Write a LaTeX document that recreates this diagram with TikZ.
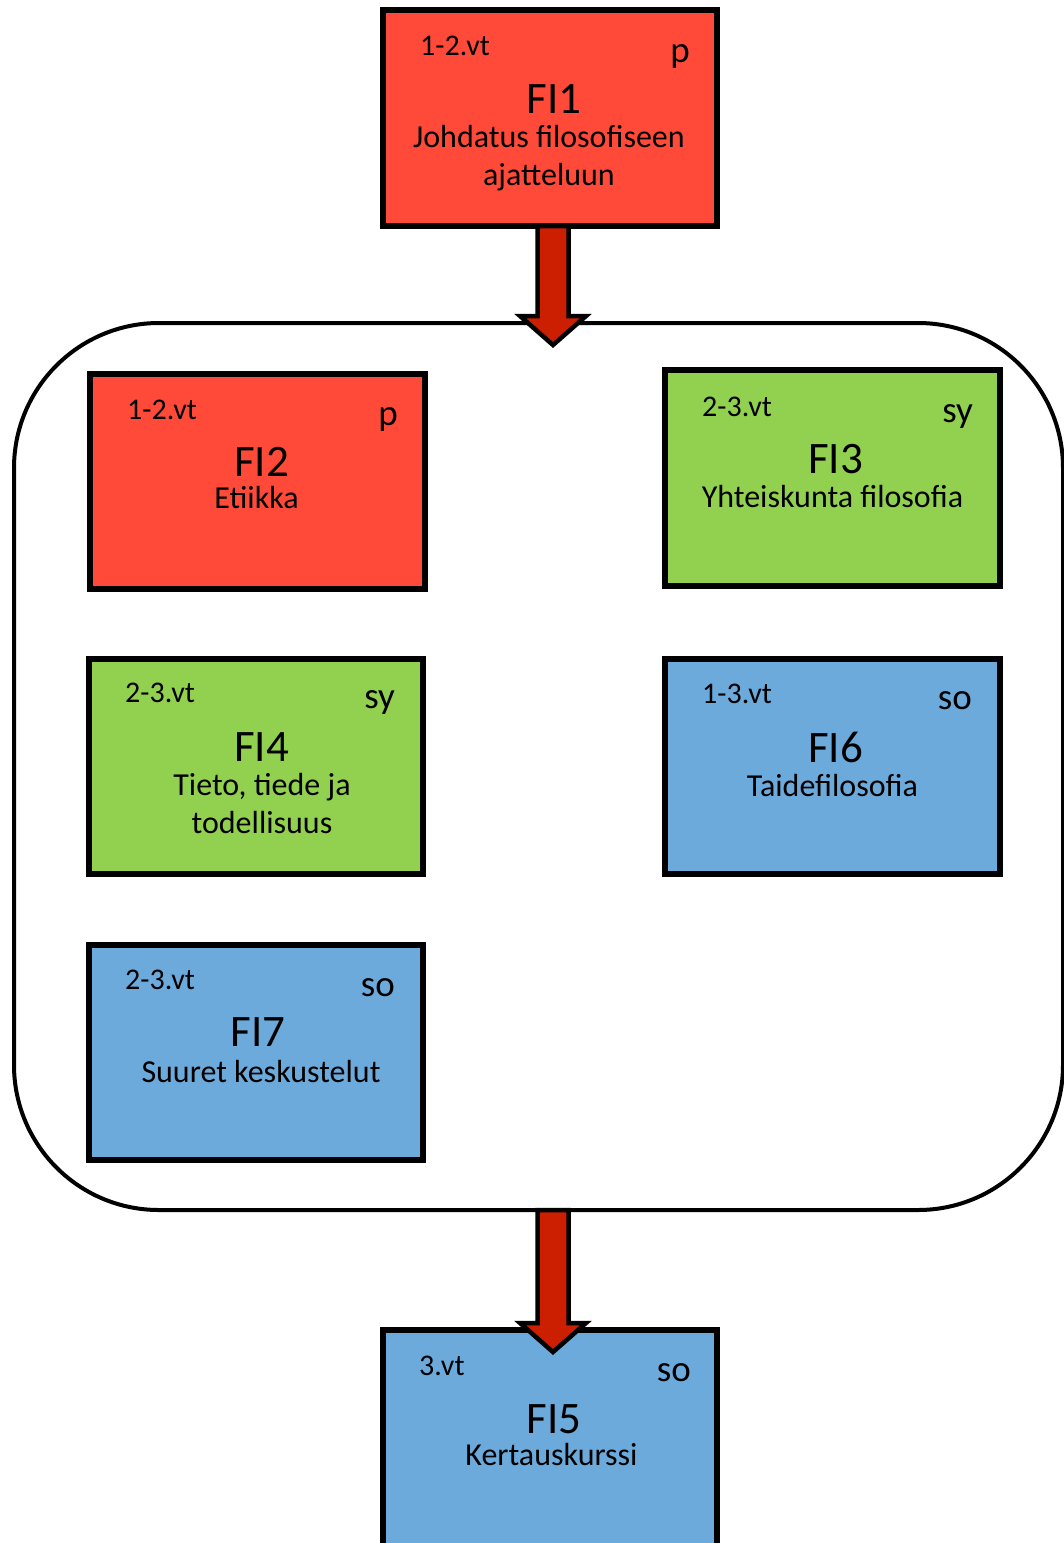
\documentclass[tikz,border=0pt]{standalone}
\usepackage{fontspec}
\setmainfont{Carlito}
\usetikzlibrary{calc}
\definecolor{boxred}{RGB}{255,74,58}
\definecolor{boxgreen}{RGB}{146,208,80}
\definecolor{boxblue}{RGB}{108,170,220}
\definecolor{arrowred}{RGB}{204,30,0}
\begin{document}
\begin{tikzpicture}[x=1pt,y=-1pt,
  course/.style={draw=black, line width=6pt, minimum width=334pt, minimum height=216pt, inner sep=0pt, outer sep=0pt},
  lbl/.style={inner sep=0pt, anchor=base west, font=\fontsize{30}{36}\selectfont},
  kind/.style={inner sep=0pt, anchor=base east, font=\fontsize{37}{42}\selectfont},
  ttl/.style={inner sep=0pt, anchor=base, font=\fontsize{45}{50}\selectfont},
  sub/.style={inner sep=0pt, anchor=base, font=\fontsize{32}{38}\selectfont},
  group/.style={draw=black, line width=4pt, rounded corners=145pt, minimum width=1049pt, minimum height=887pt, inner sep=0pt, outer sep=0pt},
  bigarrow/.style={draw=black, line width=4.5pt, fill=arrowred, line join=miter}
]
\clip (0,0) rectangle (1064,1543);
\fill[white] (0,0) rectangle (1064,1543);

% container
\node[group] (cont) at (538.5,766.5) {};

% FI1
\node[course, fill=boxred] (fi1) at (550,118) {};
\node[lbl] (fi1l) at ($(fi1.north west)+(37,45)$) {1-2.vt};
\node[kind] (fi1k) at ($(fi1.north east)+(-27,52)$) {p};
\node[ttl] (fi1t) at ($(fi1.north)+(4,103)$) {FI1};
\node[sub] (fi1s) at ($(fi1.north)+(-1,137)$) {Johdatus filosofiseen};
\node[sub] (fi1s2) at ($(fi1.north)+(-1,175)$) {ajatteluun};

% FI2
\node[course, fill=boxred, minimum width=335pt, minimum height=215pt] (fi2) at (257.5,481.5) {};
\node[lbl] (fi2l) at ($(fi2.north west)+(37,45)$) {1-2.vt};
\node[kind] (fi2k) at ($(fi2.north east)+(-27,51)$) {p};
\node[ttl] (fi2t) at ($(fi2.north)+(4,102)$) {FI2};
\node[sub] (fi2s) at ($(fi2.north)+(-1,134)$) {Etiikka};

% FI3
\node[course, fill=boxgreen, minimum width=335pt] (fi3) at (832.5,478) {};
\node[lbl] (fi3l) at ($(fi3.north west)+(37,46)$) {2-3.vt};
\node[kind] (fi3k) at ($(fi3.north east)+(-27,52)$) {sy};
\node[ttl] (fi3t) at ($(fi3.north)+(3,103)$) {FI3};
\node[sub] (fi3s) at ($(fi3.north)+(0,137)$) {Yhteiskunta filosofia};

% FI4
\node[course, fill=boxgreen, minimum height=215.5pt] (fi4) at (256,766.5) {};
\node[lbl] (fi4l) at ($(fi4.north west)+(36,44)$) {2-3.vt};
\node[kind] (fi4k) at ($(fi4.north east)+(-28,50)$) {sy};
\node[ttl] (fi4t) at ($(fi4.north)+(5.5,103)$) {FI4};
\node[sub] (fi4s) at ($(fi4.north)+(6,137)$) {Tieto, tiede ja};
\node[sub] (fi4s2) at ($(fi4.north)+(6,175)$) {todellisuus};

% FI6
\node[course, fill=boxblue, minimum width=335pt, minimum height=215pt] (fi6) at (832.5,766.5) {};
\node[lbl] (fi6l) at ($(fi6.north west)+(37,44)$) {1-3.vt};
\node[kind] (fi6k) at ($(fi6.north east)+(-28,50)$) {so};
\node[ttl] (fi6t) at ($(fi6.north)+(3,103)$) {FI6};
\node[sub] (fi6s) at ($(fi6.north)+(0,137)$) {Taidefilosofia};

% FI7
\node[course, fill=boxblue, minimum height=215pt] (fi7) at (256,1052.5) {};
\node[lbl] (fi7l) at ($(fi7.north west)+(36,44)$) {2-3.vt};
\node[kind] (fi7k) at ($(fi7.north east)+(-28,51)$) {so};
\node[ttl] (fi7t) at ($(fi7.north)+(2,101)$) {FI7};
\node[sub] (fi7s) at ($(fi7.north)+(5,137)$) {Suuret keskustelut};

% FI5
\node[course, fill=boxblue] (fi5) at (550,1438) {};
\node[lbl] (fi5l) at ($(fi5.north west)+(36,45)$) {3.vt};
\node[kind] (fi5k) at ($(fi5.north east)+(-26,51)$) {so};
\node[ttl] (fi5t) at ($(fi5.north)+(4,103)$) {FI5};
\node[sub] (fi5s) at ($(fi5.north)+(1.5,135)$) {Kertauskurssi};

% arrows
\draw[bigarrow] let \p1=($(fi1.south)+(3,0)$), \p2=($(cont.north)+(3,22)$) in
  (\x1-15.5pt,\y1) -- (\x1-15.5pt,\y2+29pt) -- (\x1-33pt,\y2+29pt) -- (\x1,\y2)
  -- (\x1+33pt,\y2+29pt) -- (\x1+15.5pt,\y2+29pt) -- (\x1+15.5pt,\y1) -- cycle;
\draw[bigarrow] let \p1=($(cont.south)+(14.5,0)$), \p2=($(fi5.north)+(3,22)$) in
  (\x1-15.5pt,\y1) -- (\x1-15.5pt,\y2+29pt) -- (\x1-33pt,\y2+29pt) -- (\x1,\y2)
  -- (\x1+33pt,\y2+29pt) -- (\x1+15.5pt,\y2+29pt) -- (\x1+15.5pt,\y1) -- cycle;
\end{tikzpicture}
\end{document}
